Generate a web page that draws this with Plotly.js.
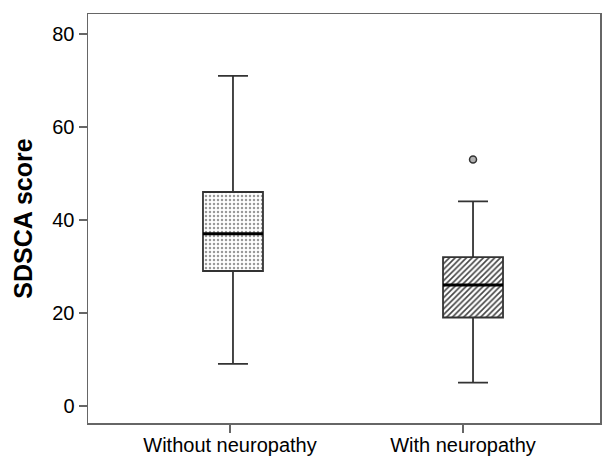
<!DOCTYPE html>
<html>
<head>
<meta charset="utf-8">
<script src="https://cdn.plot.ly/plotly-3.0.1.min.js"></script>
<style>html,body{margin:0;padding:0;background:#fff;}#chart{width:616px;height:457px;}</style>
</head>
<body>
<div id="chart"></div>
<script>
// Data
var groups = ["Without neuropathy", "With neuropathy"];
var groupPos = [0, 1];
var tickPos = [-0.0125, 0.958];
var q1 = [29, 19];
var median = [37, 26];
var q3 = [46, 32];
var lowerWhisker = [9, 5];
var upperWhisker = [71, 44];
var outlierGroup = [1];
var outlierValue = [53];
var patterns = [".", "/"];

var iqr = q3.map(function (v, i) { return v - q1[i]; });

var traces = [
  {
    type: "bar",
    x: groupPos,
    y: iqr,
    base: q1,
    width: 0.25,
    marker: {
      color: "#ffffff",
      line: { width: 0 },
      pattern: {
        shape: patterns,
        fgcolor: ["#9a9a9a", "#444444"],
        bgcolor: "#ffffff",
        size: [4, 4],
        solidity: [0.3, 0.4]
      }
    },
    showlegend: false,
    hoverinfo: "skip"
  },
  {
    type: "box",
    x: groupPos,
    q1: q1,
    median: median,
    q3: q3,
    lowerfence: lowerWhisker,
    upperfence: upperWhisker,
    width: 0.25,
    whiskerwidth: 0.5,
    fillcolor: "rgba(0,0,0,0)",
    line: { color: "#333333", width: 1.8 },
    showlegend: false
  },
  {
    type: "box",
    x: groupPos,
    q1: median,
    median: median,
    q3: median,
    lowerfence: median,
    upperfence: median,
    width: 0.25,
    whiskerwidth: 1,
    fillcolor: "rgba(0,0,0,0)",
    line: { color: "#000000", width: 3 },
    showlegend: false
  },
  {
    type: "scatter",
    mode: "markers",
    x: outlierGroup,
    y: outlierValue,
    marker: { symbol: "circle", size: 7, color: "#b0b0b0", line: { color: "#333333", width: 1.5 } },
    showlegend: false
  }
];

var layout = {
  width: 616,
  height: 457,
  margin: { l: 88, r: 16, t: 14, b: 34 },
  paper_bgcolor: "#ffffff",
  plot_bgcolor: "#ffffff",
  font: { family: "Liberation Sans, Arial, sans-serif", color: "#000000", size: 20 },
  showlegend: false,
  boxmode: "overlay",
  xaxis: {
    range: [-0.604, 1.529],
    tickmode: "array",
    tickvals: tickPos,
    ticktext: groups,
    ticks: "outside",
    ticklen: 8,
    tickwidth: 1.5,
    tickcolor: "#666666",
    ticklabelstandoff: -5,
    showline: true,
    linecolor: "#666666",
    linewidth: 1.5,
    mirror: true,
    showgrid: false,
    zeroline: false,
    tickfont: { size: 20 }
  },
  yaxis: {
    range: [-3.7, 84.3],
    tickmode: "array",
    tickvals: [0, 20, 40, 60, 80],
    ticks: "outside",
    ticklen: 8,
    tickwidth: 1.5,
    tickcolor: "#666666",
    showline: true,
    linecolor: "#666666",
    linewidth: 1.5,
    mirror: true,
    showgrid: false,
    zeroline: false,
    tickfont: { size: 20 },
    title: { text: "<b>SDSCA score</b>", font: { size: 25 }, standoff: 12 }
  }
};

Plotly.newPlot("chart", traces, layout, { displayModeBar: false, staticPlot: true });
</script>
</body>
</html>
